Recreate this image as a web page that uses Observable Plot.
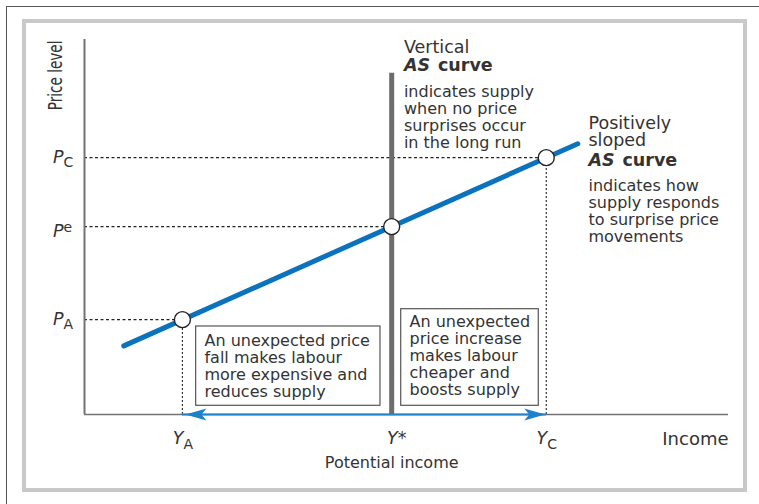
<!DOCTYPE html>
<html>
<head>
<meta charset="utf-8">
<script src="https://cdn.jsdelivr.net/npm/d3@7"></script>
<script src="https://cdn.jsdelivr.net/npm/@observablehq/plot@0.6"></script>
<style>
  body { margin: 0; background: #fff; }
  #wrap { position: relative; width: 759px; height: 504px; overflow: hidden; }
  #chart { position: absolute; left: 0; top: 0; }
  #outer { position: absolute; left: 6px; top: 6px; width: 900px; height: 700px;
           border-left: 1.5px solid #555; border-top: 1.5px solid #555; pointer-events: none; }
  #inner { position: absolute; left: 22px; top: 19px; width: 717px; height: 465px;
           border: 4px solid #c9c9c9; pointer-events: none; }
</style>
</head>
<body>
<div id="wrap">
  <div id="chart"></div>
  <div id="outer"></div>
  <div id="inner"></div>
</div>
<script>
// ---- data ----
const incomeKeys = ["A", "*", "C"];
const incomeValues = [15.2, 47.7, 71.7];
const priceKeys = ["A", "e", "C"];
const priceValues = [25.3, 50.1, 68.5];
const curveIncome = [6.1, 76.6];
const curvePrice = [18.3, 72.2];
const verticalASIncome = 47.7;
const verticalASTop = 91;

// ---- texts ----
const yAxisLabel = "Price level";
const xAxisLabel = "Income";
const potentialLabel = "Potential income";
const verticalTitle = "Vertical";
const verticalBody = "indicates supply\nwhen no price\nsurprises occur\nin the long run";
const slopedTitle = "Positively\nsloped";
const slopedBody = "indicates how\nsupply responds\nto surprise price\nmovements";
const fallBox = "An unexpected price\nfall makes labour\nmore expensive and\nreduces supply";
const riseBox = "An unexpected\nprice increase\nmakes labour\ncheaper and\nboosts supply";

// ---- tables built from the arrays ----
const points = priceKeys.map((k, i) => ({key: k, income: incomeValues[i], price: priceValues[i]}));
const curve = curveIncome.map((x, i) => ({income: x, price: curvePrice[i]}));
const incomeTicks = incomeKeys.map((k, i) => ({key: k, value: incomeValues[i]}));
const priceTicks = priceKeys.map((k, i) => ({key: k, value: priceValues[i]}));
const verticalAS = [{income: verticalASIncome, top: verticalASTop}];

const ink = "#333";
const blue = "#0b72bd";
const arrowBlue = "#1f80cc";
const barGray = "#6d6d70";
const axisGray = "#737373";

const arrowLeft = {draw(c) { c.moveTo(3, 0); c.lineTo(24, -6); c.lineTo(19, 0); c.lineTo(24, 6); c.closePath(); }};
const arrowRight = {draw(c) { c.moveTo(-1, 0); c.lineTo(-22, -6); c.lineTo(-17, 0); c.lineTo(-22, 6); c.closePath(); }};

const T = {textAnchor: "start", lineAnchor: "bottom", fill: ink};

const chart = Plot.plot({
  width: 759,
  height: 504,
  marginLeft: 84,
  marginRight: 31,
  marginTop: 39,
  marginBottom: 90,
  x: {domain: [0, 100], axis: null},
  y: {domain: [0, 100], axis: null},
  style: {fontFamily: "DejaVu Sans", fontSize: "16px", background: "transparent", color: ink},
  marks: [
    // guide lines
    Plot.ruleY(points, {y: "price", x1: 0, x2: "income", stroke: "#222", strokeWidth: 1.1, strokeDasharray: "3,2.5"}),
    Plot.ruleX(points.filter(d => d.key !== "e"), {x: "income", y1: 0, y2: "price", stroke: "#222", strokeWidth: 1.1, strokeDasharray: "2,2"}),
    // axes
    Plot.ruleX([0], {y1: 0, y2: 100, stroke: axisGray, strokeWidth: 2}),
    Plot.ruleY([0], {x1: 0, x2: 100, stroke: axisGray, strokeWidth: 1.5}),
    // double arrow along the income axis
    Plot.ruleY([0], {x1: incomeValues[0], x2: incomeValues[2], stroke: arrowBlue, strokeWidth: 2}),
    Plot.dot([incomeValues[0]], {x: d => d, y: 0, symbol: arrowLeft, fill: arrowBlue, stroke: "none"}),
    Plot.dot([incomeValues[2]], {x: d => d, y: 0, symbol: arrowRight, fill: arrowBlue, stroke: "none"}),
    // vertical AS curve
    Plot.ruleX(verticalAS, {x: "income", y1: 0, y2: "top", stroke: barGray, strokeWidth: 5}),
    // positively sloped AS curve
    Plot.line(curve, {x: "income", y: "price", stroke: blue, strokeWidth: 5}),
    Plot.dot(points, {x: "income", y: "price", r: 8, fill: "white", stroke: "#222", strokeWidth: 1.4}),
    // boxes
    Plot.rect([0], {x1: 17.34, x2: 45.96, y1: 2.32, y2: 23.47, fill: "white", stroke: "#555", strokeWidth: 1.2}),
    Plot.rect([0], {x1: 49.18, x2: 70.54, y1: 2.32, y2: 28.08, fill: "white", stroke: "#555", strokeWidth: 1.2}),
    Plot.text([fallBox], {...T, x: 18.63, y: 4.8, text: d => d, fontSize: 16, lineHeight: 1.05}),
    Plot.text([riseBox], {...T, x: 50.47, y: 5.33, text: d => d, fontSize: 16, lineHeight: 1.05}),
    // price tick labels
    Plot.text(priceTicks.filter(d => d.key !== "e"), {...T, x: 0, y: "value", text: () => "P", textAnchor: "end", dx: -21, dy: 5, fontStyle: "italic", fontSize: 17.5}),
    Plot.text(priceTicks.filter(d => d.key !== "e"), {...T, x: 0, y: "value", text: "key", dx: -21, dy: 9.5, fontSize: 14}),
    Plot.text(priceTicks.filter(d => d.key === "e"), {...T, x: 0, y: "value", text: () => "P", textAnchor: "end", dx: -21, dy: 10.5, fontStyle: "italic", fontSize: 17.5}),
    Plot.text(priceTicks.filter(d => d.key === "e"), {...T, x: 0, y: "value", text: "key", dx: -21, dy: 5, fontSize: 14}),
    // income tick labels
    Plot.text(incomeTicks.filter(d => d.key !== "*"), {...T, x: "value", y: 0, text: () => "Y", textAnchor: "end", dx: 1, dy: 29, fontStyle: "italic", fontSize: 17.5}),
    Plot.text(incomeTicks.filter(d => d.key !== "*"), {...T, x: "value", y: 0, text: "key", dx: 1, dy: 34, fontSize: 14}),
    Plot.text(incomeTicks.filter(d => d.key === "*"), {...T, x: "value", y: 0, text: () => "Y", textAnchor: "end", dx: 6, dy: 29, fontStyle: "italic", fontSize: 17.5}),
    Plot.text(incomeTicks.filter(d => d.key === "*"), {...T, x: "value", y: 0, text: "key", dx: 6, dy: 29, fontSize: 17.5}),
    // axis titles
    Plot.text([xAxisLabel], {...T, x: 100, y: 0, text: d => d, textAnchor: "end", dy: 30, fontSize: 18}),
    Plot.text([potentialLabel], {...T, x: verticalASIncome, y: 0, text: d => d, textAnchor: "middle", dy: 53, fontSize: 16}),
    Plot.text([yAxisLabel], {...T, x: 0, y: 100, text: d => d, textAnchor: "end", rotate: -90, dx: -23, dy: 1, fontSize: 20}),
    // annotations: vertical AS
    Plot.text([verticalTitle], {...T, x: 49.6, y: 96.45, text: d => d, fontSize: 17.5}),
    Plot.text(["AS"], {...T, x: 49.6, y: 91.47, text: d => d, fontSize: 17.5, fontWeight: "bold", fontStyle: "italic"}),
    Plot.text(["curve"], {...T, x: 49.6, y: 91.47, text: d => d, dx: 34, fontSize: 17.5, fontWeight: "bold"}),
    Plot.text([verticalBody], {...T, x: 49.6, y: 71.2, text: d => d, fontSize: 16, lineHeight: 1.0625}),
    // annotations: sloped AS
    Plot.text([slopedTitle], {...T, x: 78.26, y: 71.55, text: d => d, fontSize: 17.5, lineHeight: 1.0}),
    Plot.text(["AS"], {...T, x: 78.26, y: 66.21, text: d => d, fontSize: 17.5, fontWeight: "bold", fontStyle: "italic"}),
    Plot.text(["curve"], {...T, x: 78.26, y: 66.21, text: d => d, dx: 34, fontSize: 17.5, fontWeight: "bold"}),
    Plot.text([slopedBody], {...T, x: 78.26, y: 46.13, text: d => d, fontSize: 16, lineHeight: 1.0625})
  ]
});

// condense the rotated y-axis title along its reading direction
chart.querySelectorAll("text").forEach(t => {
  if (t.textContent === yAxisLabel) {
    const tr = t.getAttribute("transform") || "";
    t.setAttribute("transform", tr + " scale(0.68,1)");
  }
});

document.getElementById("chart").appendChild(chart);
</script>
</body>
</html>
